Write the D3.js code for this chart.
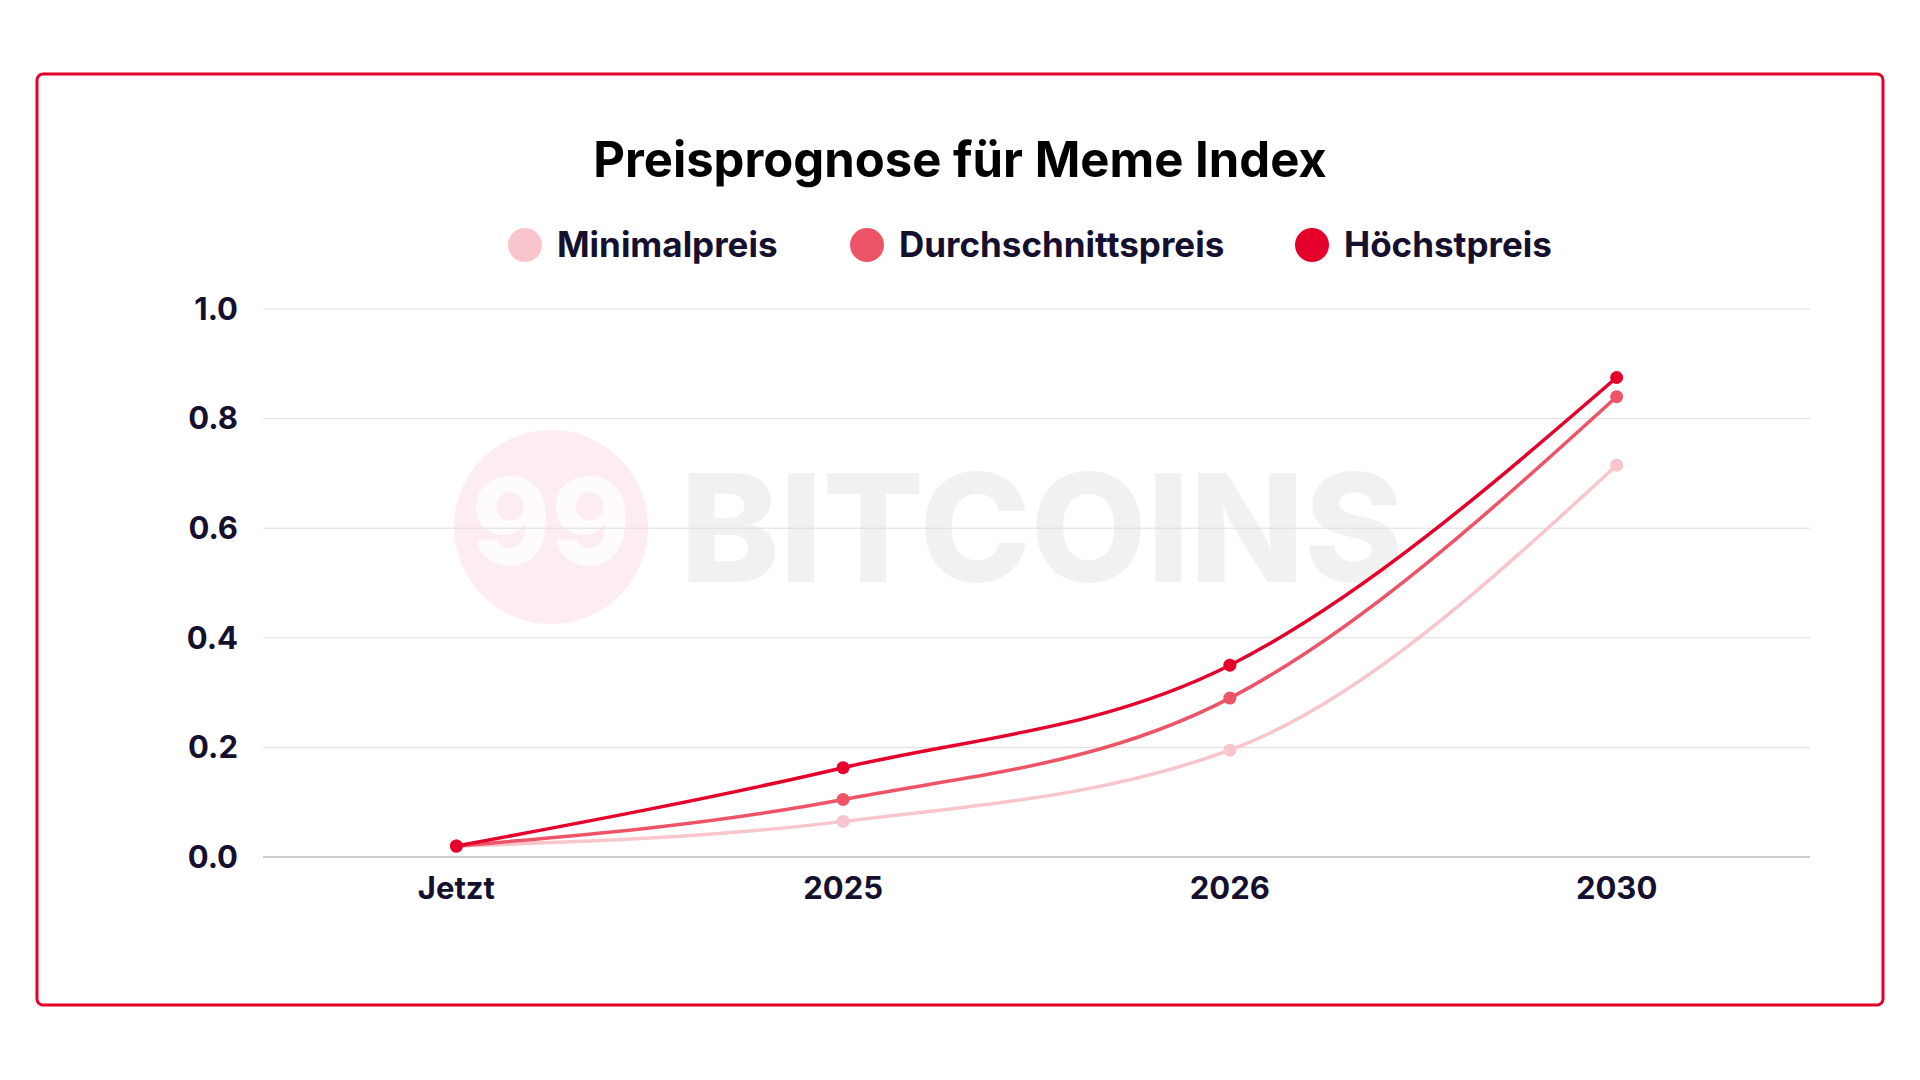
<!DOCTYPE html>
<html><head><meta charset="utf-8">
<script src="https://cdn.jsdelivr.net/npm/d3@7"></script>
<style>body{margin:0;background:#fff}svg{display:block;font-family:Inter,"Noto Sans",sans-serif}</style>
</head><body><svg id="c" width="1920" height="1080"></svg>
<script>
const categories=["Jetzt","2025","2026","2030"];
const seriesNames=["Minimalpreis","Durchschnittspreis","Höchstpreis"];
const seriesColors=["#f9c5cc","#ee5468","#e4002b"];
const minValues=[0.02,0.065,0.195,0.715];
const avgValues=[0.02,0.105,0.29,0.84];
const maxValues=[0.02,0.163,0.35,0.875];
const yTicks=[0,0.2,0.4,0.6,0.8,1.0];
const allSeries=[minValues,avgValues,maxValues];

const svg=d3.select("#c");
svg.append("rect").attr("x",37).attr("y",74).attr("width",1846).attr("height",931).attr("rx",6)
 .attr("fill","#fff").attr("stroke","#e4002b").attr("stroke-width",3);
const x=d3.scalePoint().domain(categories).range([263,1810]).padding(0.5);
const y=d3.scaleLinear().domain([0,1]).range([857,309]);
svg.append("circle").attr("cx",551).attr("cy",527).attr("r",97).attr("fill","#e4002b").attr("opacity",0.07);
svg.append("text").attr("x",551).attr("y",565).attr("text-anchor","middle").attr("font-size",120).attr("font-weight",800).attr("fill","#fff").attr("opacity",0.8).text("99");
svg.append("text").attr("x",680).attr("y",582).attr("font-size",150).attr("font-weight",800).attr("fill","#000").attr("opacity",0.05).text("BITCOINS");
svg.append("g").selectAll("line").data(yTicks).join("line")
 .attr("x1",263).attr("x2",1810).attr("y1",d=>y(d)).attr("y2",d=>y(d))
 .attr("stroke",d=>d===0?"#bbb":"#ddd").attr("stroke-width",d=>d===0?1.5:1);
svg.append("g").selectAll("text").data(yTicks).join("text")
 .attr("x",238).attr("y",d=>y(d)).attr("dy","0.35em").attr("text-anchor","end")
 .attr("font-size",31).attr("font-weight",700).attr("fill","#14102e").text(d=>d.toFixed(1));
svg.append("g").selectAll("text").data(categories).join("text")
 .attr("x",d=>x(d)).attr("y",899).attr("text-anchor","middle")
 .attr("font-size",31).attr("font-weight",700).attr("fill","#14102e").text(d=>d);
const line=d3.line().x((d,i)=>x(categories[i])).y(d=>y(d)).curve(d3.curveMonotoneX);
allSeries.forEach((s,k)=>{
 svg.append("path").attr("d",line(s)).attr("fill","none").attr("stroke",seriesColors[k]).attr("stroke-width",3.5);
 svg.append("g").selectAll("circle").data(s).join("circle")
  .attr("cx",(d,i)=>x(categories[i])).attr("cy",d=>y(d)).attr("r",6.5).attr("fill",seriesColors[k]);
});
svg.append("text").attr("x",960).attr("y",177).attr("text-anchor","middle").attr("font-size",49).attr("font-weight",700).attr("fill","#000").text("Preisprognose für Meme Index");
const legX=[525,867,1312];
seriesNames.forEach((n,k)=>{
 svg.append("circle").attr("cx",legX[k]).attr("cy",245).attr("r",17).attr("fill",seriesColors[k]);
 svg.append("text").attr("x",legX[k]+32).attr("y",245).attr("dy","0.35em").attr("font-size",35).attr("font-weight",700).attr("fill","#14102e").text(n);
});
</script></body></html>
